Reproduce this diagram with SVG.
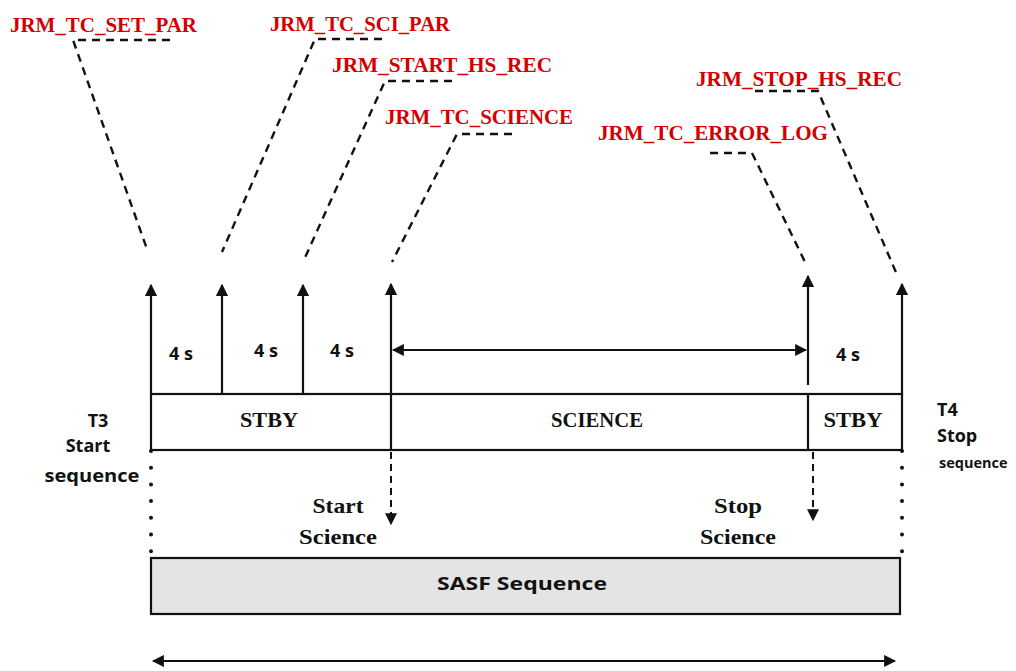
<svg xmlns="http://www.w3.org/2000/svg" width="1016" height="671" viewBox="0 0 1016 671">
<style>
.red{font-family:"Liberation Serif",serif;font-weight:bold;font-size:22px;fill:#d40000}
.ser{font-family:"Liberation Serif",serif;font-weight:bold;font-size:21px;fill:#111}
.sans{font-family:"Open Sans","Liberation Sans",sans-serif;font-weight:bold;font-size:18px;fill:#111}
.ln{stroke:#111;stroke-width:2.2;fill:none}
.dash{stroke:#111;stroke-width:2.4;fill:none;stroke-dasharray:8 6}
.dot{stroke:#111;stroke-width:4;fill:none;stroke-linecap:round;stroke-dasharray:0 16.7}
.ddash{stroke:#111;stroke-width:2;fill:none;stroke-dasharray:7 5}
</style>
<defs>
<marker id="ah" viewBox="0 0 10 10" refX="9" refY="5" markerWidth="5.5" markerHeight="5.5" orient="auto-start-reverse" markerUnits="strokeWidth">
<path d="M0,0 L10,5 L0,10 z" fill="#111"/>
</marker>
<marker id="ahs" viewBox="0 0 10 10" refX="9" refY="5" markerWidth="6" markerHeight="6" orient="auto" markerUnits="strokeWidth">
<path d="M0,0 L10,5 L0,10 z" fill="#111"/>
</marker>
</defs>
<rect width="1016" height="671" fill="#fff"/>

<g id="labels">
<text class="red" x="10" y="32" textLength="187" lengthAdjust="spacingAndGlyphs">JRM_TC_SET_PAR</text>
<text class="red" x="270" y="31" textLength="180" lengthAdjust="spacingAndGlyphs">JRM_TC_SCI_PAR</text>
<text class="red" x="332" y="72" textLength="220" lengthAdjust="spacingAndGlyphs">JRM_START_HS_REC</text>
<text class="red" x="385" y="124" textLength="188" lengthAdjust="spacingAndGlyphs">JRM_TC_SCIENCE</text>
<text class="red" x="696" y="86" textLength="206" lengthAdjust="spacingAndGlyphs">JRM_STOP_HS_REC</text>
<text class="red" x="598" y="140" textLength="230" lengthAdjust="spacingAndGlyphs">JRM_TC_ERROR_LOG</text>
</g>

<g id="connectors">
<polyline class="dash" points="170,40 73,40 148,252"/>
<polyline class="dash" points="382,39 315,39 222,252"/>
<polyline class="dash" points="452,81 385,81 303,262"/>
<polyline class="dash" points="512,134 457,134 392,262"/>
<polyline class="dash" points="755,91 818,91 898,277"/>
<polyline class="dash" points="710,153 752,153 805,262"/>

<line class="ln" x1="151" y1="394" x2="151" y2="285" marker-end="url(#ah)"/>
<line class="ln" x1="222" y1="394" x2="222" y2="285" marker-end="url(#ah)"/>
<line class="ln" x1="303" y1="394" x2="303" y2="285" marker-end="url(#ah)"/>
<line class="ln" x1="391" y1="450" x2="391" y2="284" marker-end="url(#ah)"/>
<line class="ln" x1="808" y1="385" x2="808" y2="276" marker-end="url(#ah)"/>
<line class="ln" x1="902" y1="394" x2="902" y2="284" marker-end="url(#ah)"/>
<line class="ln" x1="393" y1="350" x2="806" y2="350" marker-start="url(#ah)" marker-end="url(#ah)"/>

<line class="ddash" x1="391" y1="452" x2="391" y2="524" marker-end="url(#ahs)"/>
<line class="ddash" x1="813" y1="452" x2="813" y2="520" marker-end="url(#ahs)"/>

<line class="dot" x1="151" y1="451" x2="151" y2="556"/>
<line class="dot" x1="902" y1="451" x2="902" y2="556"/>

<line class="ln" x1="153" y1="661" x2="895" y2="661" marker-start="url(#ah)" marker-end="url(#ah)"/>
</g>

<g id="timeline">
<rect class="ln" x="151" y="394" width="751" height="56"/>
<line class="ln" x1="808" y1="394" x2="808" y2="450"/>
<text class="ser" x="269" y="427" text-anchor="middle" textLength="58" lengthAdjust="spacingAndGlyphs">STBY</text>
<text class="ser" x="597" y="427" text-anchor="middle" textLength="92" lengthAdjust="spacingAndGlyphs">SCIENCE</text>
<text class="ser" x="853" y="427" text-anchor="middle" textLength="59" lengthAdjust="spacingAndGlyphs">STBY</text>
</g>

<g id="durations">
<text class="sans" x="181" y="360" text-anchor="middle">4 s</text>
<text class="sans" x="266" y="357" text-anchor="middle">4 s</text>
<text class="sans" x="342" y="357" text-anchor="middle">4 s</text>
<text class="sans" x="848" y="361" text-anchor="middle">4 s</text>
</g>

<g id="t3">
<text class="sans" x="98" y="427" text-anchor="middle">T3</text>
<text class="sans" x="88" y="452" text-anchor="middle">Start</text>
<text class="sans" x="92" y="482" text-anchor="middle" textLength="95" lengthAdjust="spacingAndGlyphs">sequence</text>
</g>

<g id="t4">
<text class="sans" x="937" y="416">T4</text>
<text class="sans" x="937" y="442">Stop</text>
<text class="sans" x="939" y="468" style="font-size:14.5px">sequence</text>
</g>

<g id="start-science">
<text class="ser" x="338" y="513" text-anchor="middle" textLength="51" lengthAdjust="spacingAndGlyphs">Start</text>
<text class="ser" x="338" y="544" text-anchor="middle" textLength="78" lengthAdjust="spacingAndGlyphs">Science</text>
</g>

<g id="stop-science">
<text class="ser" x="738" y="513" text-anchor="middle" textLength="48" lengthAdjust="spacingAndGlyphs">Stop</text>
<text class="ser" x="738" y="544" text-anchor="middle" textLength="76" lengthAdjust="spacingAndGlyphs">Science</text>
</g>

<g id="sasf">
<rect x="151" y="558" width="749" height="56" fill="#e4e4e4" stroke="#111" stroke-width="2.2"/>
<text class="sans" x="522" y="590" text-anchor="middle" textLength="170" lengthAdjust="spacingAndGlyphs">SASF Sequence</text>
</g>
</svg>
